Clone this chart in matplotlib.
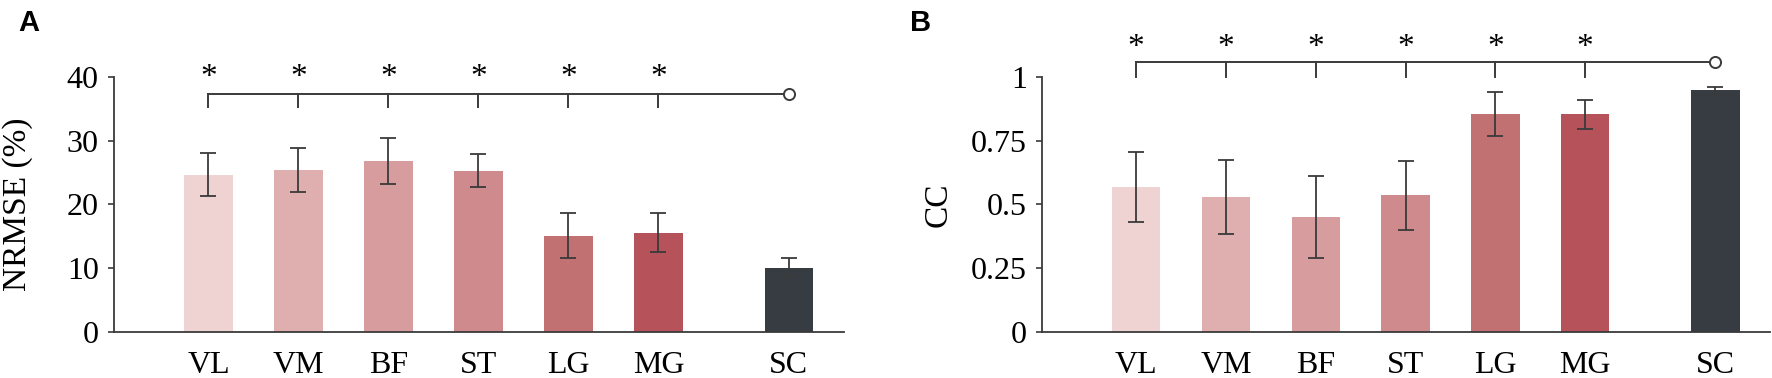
import matplotlib
matplotlib.use('Agg')
import matplotlib.pyplot as plt

muscles = ['VL', 'VM', 'BF', 'ST', 'LG', 'MG', 'SC']
colors = ['#efd3d3', '#dfaeaf', '#d79c9d', '#ce8a8c', '#c27172', '#b5525a', '#373b42']

nrmse_mean = [24.7, 25.4, 26.8, 25.3, 15.1, 15.6, 10.1]
nrmse_err = [3.4, 3.45, 3.6, 2.6, 3.55, 3.1, 1.5]

cc_mean = [0.567, 0.528, 0.451, 0.536, 0.856, 0.854, 0.948]
cc_err = [0.137, 0.145, 0.162, 0.135, 0.086, 0.057, 0.013]

pos = [1, 2, 3, 4, 5, 6, 7.45]

plt.rcParams['font.family'] = ['Liberation Serif', 'DejaVu Serif']
plt.rcParams['font.size'] = 23

fig = plt.figure(figsize=(17.72, 3.78), dpi=100)
axA = fig.add_axes([0.0643, 0.1217, 0.4119, 0.6746])
axB = fig.add_axes([0.588, 0.1217, 0.411, 0.6746])

linec = '#3a3a3a'


def panel(ax, means, errs, ymax, yticks, yticklabels, ylabel, bracket, star, drop, lp):
    ax.bar(pos, means, width=0.54, color=colors, zorder=1)
    ax.errorbar(pos, means, yerr=errs, fmt='none', ecolor=linec, elinewidth=1.3,
                capsize=6, capthick=1.3, zorder=2)
    ax.set_xlim(-0.05, 8.06)
    ax.set_ylim(0, ymax)
    ax.set_yticks(yticks)
    ax.set_yticklabels(yticklabels)
    ax.set_xticks(pos)
    ax.set_xticklabels(muscles)
    ax.tick_params(axis='x', length=0, pad=14)
    ax.tick_params(axis='y', length=4, width=1.2, pad=7, color=linec)
    ax.set_ylabel(ylabel, labelpad=lp, fontsize=24)
    for s in ['top', 'right']:
        ax.spines[s].set_visible(False)
    for s in ['left', 'bottom']:
        ax.spines[s].set_linewidth(1.3)
        ax.spines[s].set_color(linec)
    # significance bracket
    ax.plot([pos[0], pos[-1]], [bracket, bracket], color=linec, lw=1.4, clip_on=False, zorder=3)
    for p in pos[:-1]:
        ax.plot([p, p], [drop, bracket], color=linec, lw=1.4, clip_on=False, zorder=3)
        ax.text(p, star, '*', ha='center', va='center', fontsize=24, clip_on=False)
    ax.plot([pos[-1]], [bracket], marker='o', ms=8, mfc='white', mec=linec, mew=1.4,
            clip_on=False, zorder=4)


panel(axA, nrmse_mean, nrmse_err, 40, [0, 10, 20, 30, 40], ['0', '10', '20', '30', '40'],
      'NRMSE (%)', 37.3, 39.9, 35.3, 24)
panel(axB, cc_mean, cc_err, 1, [0, 0.25, 0.5, 0.75, 1], ['0', '0.25', '0.5', '0.75', '1'],
      'CC', 1.057, 1.115, 1.0, 12)

fig.text(0.0102, 0.94, 'A', fontsize=21, fontweight='bold', family='Liberation Sans',
         ha='left', va='center')
fig.text(0.5135, 0.94, 'B', fontsize=21, fontweight='bold', family='Liberation Sans',
         ha='left', va='center')

fig.savefig('out.png', dpi=100)
